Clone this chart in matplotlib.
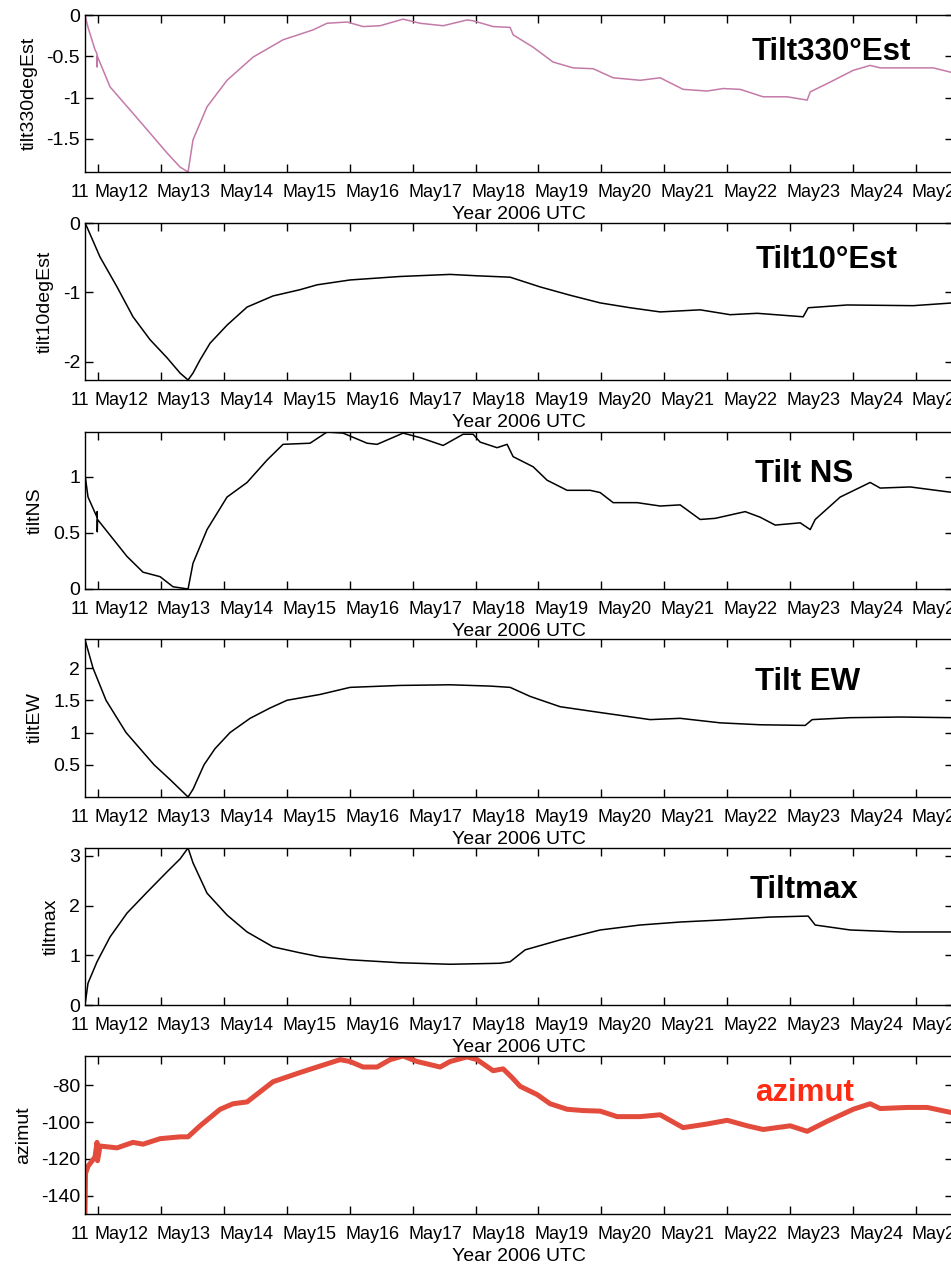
import numpy as np
import matplotlib
matplotlib.use('Agg')
import matplotlib.pyplot as plt
import matplotlib.ticker as ticker
import matplotlib.transforms as mtransforms

plt.rcParams['font.family'] = 'Liberation Sans'
plt.rcParams['axes.unicode_minus'] = False

# ─── Datos (tiempo en dias fraccionarios de mayo 2006, UTC) ──────────────────

t_330 = [11.793, 11.841, 11.952, 11.984, 11.986, 11.990, 12.191, 12.556, 12.827,
         13.097, 13.304, 13.431, 13.510, 13.733, 14.051, 14.464, 14.941, 15.418,
         15.641, 15.959, 16.213, 16.483, 16.849, 17.119, 17.485, 17.866, 17.962,
         18.280, 18.550, 18.598, 18.916, 19.234, 19.552, 19.870, 20.188, 20.617,
         20.935, 21.300, 21.682, 21.936, 22.207, 22.572, 22.954, 23.272, 23.320,
         23.590, 24.003, 24.273, 24.432, 24.862, 25.275, 25.593]
v_330 = [0.0, -0.15, -0.42, -0.47, -0.63, -0.50, -0.87, -1.19, -1.43,
         -1.67, -1.84, -1.90, -1.51, -1.11, -0.79, -0.51, -0.30, -0.18,
         -0.10, -0.085, -0.14, -0.13, -0.05, -0.10, -0.13, -0.06, -0.07,
         -0.14, -0.15, -0.24, -0.39, -0.57, -0.64, -0.65, -0.76, -0.79,
         -0.76, -0.90, -0.92, -0.89, -0.90, -0.99, -0.99, -1.03, -0.93,
         -0.83, -0.67, -0.61, -0.64, -0.64, -0.64, -0.70]

t_10 = [11.793, 11.825, 12.032, 12.302, 12.556, 12.827, 13.097, 13.304, 13.431,
        13.510, 13.622, 13.781, 14.051, 14.369, 14.782, 15.211, 15.482, 16.006,
        16.801, 17.596, 18.025, 18.550, 19.027, 19.504, 19.981, 20.458, 20.935,
        21.571, 22.048, 22.477, 23.208, 23.288, 23.908, 24.957, 25.593]
v_10 = [0.0, -0.06, -0.49, -0.92, -1.35, -1.68, -1.94, -2.16, -2.26,
        -2.16, -1.97, -1.73, -1.47, -1.21, -1.05, -0.96, -0.89, -0.82,
        -0.77, -0.74, -0.76, -0.78, -0.92, -1.04, -1.15, -1.22, -1.28,
        -1.25, -1.32, -1.30, -1.35, -1.22, -1.18, -1.19, -1.15]

t_ns = [11.793, 11.841, 11.952, 11.984, 11.986, 11.988, 11.992, 12.191, 12.461,
        12.715, 12.986, 13.192, 13.431, 13.510, 13.733, 14.051, 14.369, 14.687,
        14.941, 15.370, 15.641, 15.895, 16.277, 16.436, 16.849, 17.119, 17.485,
        17.803, 17.962, 18.073, 18.343, 18.502, 18.598, 18.916, 19.138, 19.456,
        19.822, 19.981, 20.188, 20.569, 20.935, 21.253, 21.571, 21.809, 22.286,
        22.525, 22.763, 23.161, 23.320, 23.399, 23.797, 24.273, 24.432, 24.909,
        25.593]
v_ns = [1.02, 0.82, 0.68, 0.64, 0.69, 0.51, 0.62, 0.48, 0.29,
        0.15, 0.11, 0.02, 0.0, 0.23, 0.53, 0.82, 0.95, 1.15,
        1.29, 1.30, 1.40, 1.39, 1.30, 1.29, 1.39, 1.35, 1.28,
        1.38, 1.38, 1.31, 1.26, 1.29, 1.18, 1.09, 0.97, 0.88,
        0.88, 0.86, 0.77, 0.77, 0.74, 0.75, 0.62, 0.63, 0.69,
        0.64, 0.57, 0.59, 0.53, 0.62, 0.82, 0.95, 0.90, 0.91,
        0.86]

t_ew = [11.793, 11.920, 12.127, 12.445, 12.890, 13.145, 13.431, 13.510, 13.685,
        13.860, 14.099, 14.417, 14.734, 15.005, 15.529, 16.006, 16.801, 17.596,
        18.232, 18.550, 18.868, 19.345, 19.981, 20.776, 21.253, 21.889, 22.525,
        23.240, 23.351, 23.955, 24.750, 25.593]
v_ew = [2.44, 2.00, 1.50, 1.00, 0.50, 0.27, 0.0, 0.12, 0.50,
        0.75, 1.00, 1.22, 1.38, 1.50, 1.59, 1.70, 1.73, 1.74,
        1.72, 1.70, 1.56, 1.40, 1.31, 1.20, 1.22, 1.15, 1.12,
        1.11, 1.20, 1.23, 1.24, 1.23]

t_max = [11.793, 11.841, 11.984, 12.191, 12.461, 12.779, 13.097, 13.304, 13.431,
         13.510, 13.733, 14.051, 14.369, 14.782, 15.211, 15.529, 16.006, 16.801,
         17.596, 18.391, 18.550, 18.789, 19.345, 19.981, 20.617, 21.253, 21.889,
         22.684, 23.288, 23.399, 23.955, 24.750, 25.593]
v_max = [0.0, 0.44, 0.87, 1.37, 1.85, 2.27, 2.68, 2.94, 3.16,
         2.86, 2.25, 1.81, 1.47, 1.17, 1.05, 0.97, 0.91, 0.85,
         0.82, 0.84, 0.87, 1.11, 1.31, 1.51, 1.61, 1.67, 1.71,
         1.77, 1.79, 1.61, 1.51, 1.47, 1.47]

t_az = [11.793, 11.801, 11.841, 11.952, 11.984, 11.992, 12.032, 12.302, 12.556,
        12.715, 12.986, 13.304, 13.431, 13.622, 13.940, 14.146, 14.369, 14.782,
        15.211, 15.482, 15.847, 16.006, 16.213, 16.436, 16.642, 16.849, 17.072,
        17.437, 17.596, 17.866, 18.025, 18.280, 18.439, 18.582, 18.709, 18.979,
        19.186, 19.456, 19.711, 19.981, 20.251, 20.617, 20.935, 21.300, 21.682,
        22.000, 22.318, 22.572, 23.002, 23.272, 23.590, 24.003, 24.273, 24.432,
        24.862, 25.180, 25.593]
v_az = [-150, -128, -124, -119, -111, -121, -113, -114, -111,
        -112, -109, -108, -108, -102, -93, -90, -89, -78,
        -73, -70, -66, -67, -70, -70, -66, -64, -67,
        -70, -67, -64.5, -66, -72, -71, -75.8, -80.5, -85,
        -90, -93, -93.7, -94, -97, -97, -96, -103, -101,
        -99, -102, -104, -102, -105, -99.5, -93, -90, -92.6,
        -92, -92, -95]

dias = [12, 13, 14, 15, 16, 17, 18, 19, 20, 21, 22, 23, 24, 25]
etiquetas_dias = ['May12', 'May13', 'May14', 'May15', 'May16', 'May17', 'May18',
                  'May19', 'May20', 'May21', 'May22', 'May23', 'May24', 'May25']
etiqueta_corte = '11'   # resto visible de "May11" en el borde izquierdo

# ─── Configuracion de cada panel ─────────────────────────────────────────────

W, H = 951, 1264
x_ini, x_fin = 11.793, 25.583      # limites del eje x (dias de mayo)
ax_left, ax_right = 85, 952.6       # px

paneles = [
    # t, v, ylabel, titulo, ylim, yticks, color, lw, color_titulo, top, bot, (x, y) titulo
    (t_330, v_330, 'tilt330degEst', 'Tilt330°Est', (-1.9, 0), [-1.5, -1, -0.5, 0],
     '#c47aa8', 1.1, 'black', 15, 172, (752, 60)),
    (t_10, v_10, 'tilt10degEst', 'Tilt10°Est', (-2.26, 0), [-2, -1, 0],
     'black', 1.1, 'black', 223, 380, (756, 268)),
    (t_ns, v_ns, 'tiltNS', 'Tilt NS', (0, 1.4), [0, 0.5, 1],
     'black', 1.1, 'black', 432, 589, (755, 482)),
    (t_ew, v_ew, 'tiltEW', 'Tilt EW', (0, 2.45), [0.5, 1, 1.5, 2],
     'black', 1.1, 'black', 639, 797, (755, 690)),
    (t_max, v_max, 'tiltmax', 'Tiltmax', (0, 3.16), [0, 1, 2, 3],
     'black', 1.1, 'black', 848, 1005, (750, 898)),
    (t_az, v_az, 'azimut', 'azimut', (-150, -64), [-140, -120, -100, -80],
     '#e34b3c', 3.6, '#ff2a12', 1056, 1214, (755, 1101)),
]

fig = plt.figure(figsize=(W / 100, H / 100), dpi=100)
desplaza = mtransforms.ScaledTranslation(-4 / 100, 0, fig.dpi_scale_trans)
desplaza_11 = mtransforms.ScaledTranslation(-9 / 100, 0, fig.dpi_scale_trans)
xpad = 8.5

for t, v, ylab, titulo, ylim, yticks, color, lw, ctit, top, bot, pos in paneles:
    ax = fig.add_axes([ax_left / W, 1 - bot / H, (ax_right - ax_left) / W, (bot - top) / H])
    ax.plot(t, v, color=color, linewidth=lw)
    ax.set_xlim(x_ini, x_fin)
    ax.set_ylim(*ylim)

    ax.set_yticks(yticks)
    ax.yaxis.set_major_formatter(ticker.FormatStrFormatter('%g'))
    ax.tick_params(direction='in', top=True, right=True, length=5.8, width=1.0)
    ax.tick_params(axis='x', labelsize=13, pad=xpad)
    ax.tick_params(axis='y', labelsize=14)
    for s in ax.spines.values():
        s.set_linewidth(1.0)

    ax.set_xticks(dias)
    ax.set_xticklabels(etiquetas_dias, ha='left')
    for lbl in ax.get_xticklabels():
        lbl.set_transform(lbl.get_transform() + desplaza)

    # trozo de la etiqueta del primer dia
    trans, va, _ = ax.get_xaxis_text1_transform(xpad)
    ax.text(dias[0], 0, etiqueta_corte, transform=trans + desplaza_11, va=va,
            ha='right', fontsize=13, clip_on=False)

    ax.set_xlabel('Year 2006 UTC', fontsize=14, labelpad=3.5)
    ax.set_ylabel(ylab, fontsize=14, labelpad=6.5)

    fig.text(pos[0] / W, 1 - pos[1] / H, titulo, fontsize=22.5, fontweight='bold',
             color=ctit, ha='left', va='baseline')

fig.savefig('out.png', dpi=100)
